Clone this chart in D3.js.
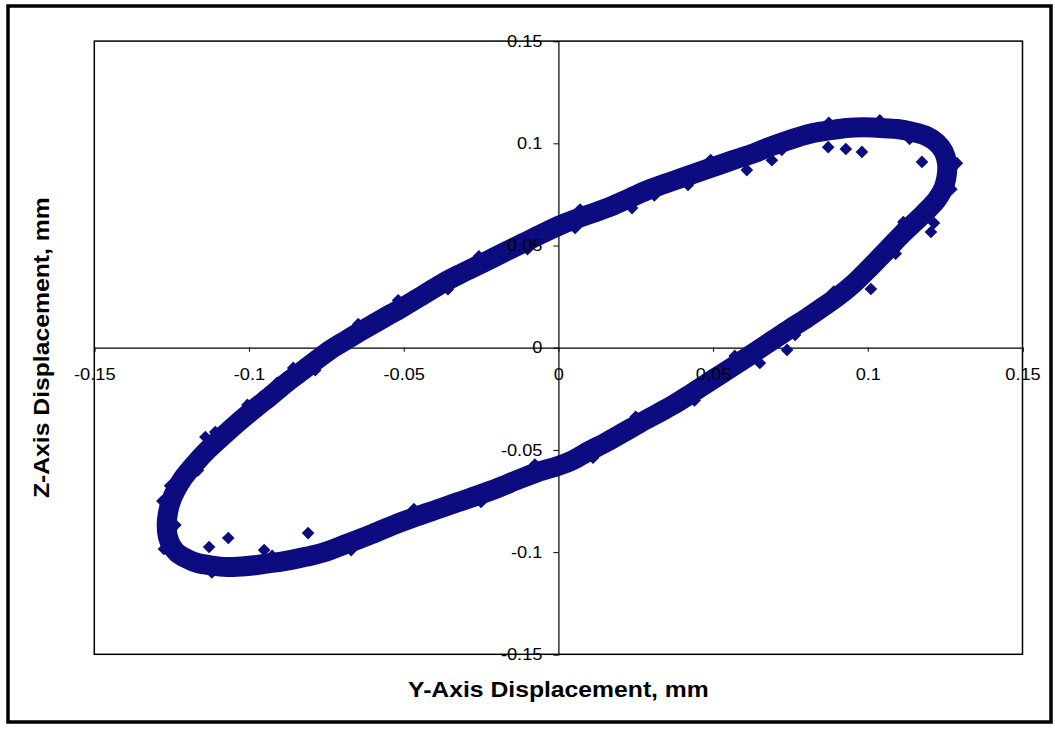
<!DOCTYPE html>
<html>
<head>
<meta charset="utf-8">
<script src="https://cdn.jsdelivr.net/npm/d3@7"></script>
<style>
  body { margin: 0; background: #fff; }
  svg text { font-family: Arial, "Liberation Sans", sans-serif; fill: #000; }
</style>
</head>
<body>
<div class="chart"></div>
<script>
// orbit of the shaft: [Y displacement, Z displacement] in mm
var orbitPoints = [
  [0.1256,0.0903],[0.1245,0.0960],[0.1224,0.1001],[0.1190,0.1035],[0.1146,0.1055],
  [0.1095,0.1070],[0.1039,0.1075],[0.0985,0.1078],[0.0932,0.1075],[0.0878,0.1064],
  [0.0823,0.1050],[0.0770,0.1028],[0.0716,0.1001],[0.0675,0.0978],[0.0633,0.0952],
  [0.0565,0.0918],[0.0500,0.0884],[0.0435,0.0850],[0.0371,0.0816],[0.0300,0.0778],
  [0.0230,0.0732],[0.0154,0.0682],[0.0080,0.0642],[0.0015,0.0605],[-0.0050,0.0560],
  [-0.0114,0.0512],[-0.0180,0.0463],[-0.0243,0.0415],[-0.0310,0.0366],[-0.0373,0.0317],
  [-0.0437,0.0258],[-0.0502,0.0199],[-0.0567,0.0143],[-0.0631,0.0087],[-0.0685,0.0038],
  [-0.0738,-0.0011],[-0.0803,-0.0085],[-0.0867,-0.0158],[-0.0927,-0.0232],[-0.0987,-0.0305],
  [-0.1040,-0.0372],[-0.1090,-0.0440],[-0.1140,-0.0510],[-0.1182,-0.0580],[-0.1214,-0.0640],
  [-0.1236,-0.0696],[-0.1252,-0.0750],[-0.1262,-0.0809],[-0.1266,-0.0868],[-0.1262,-0.0926],
  [-0.1250,-0.0970],[-0.1232,-0.1004],[-0.1200,-0.1033],[-0.1168,-0.1053],[-0.1120,-0.1066],
  [-0.1071,-0.1073],[-0.1022,-0.1070],[-0.0974,-0.1063],[-0.0920,-0.1052],[-0.0867,-0.1039],
  [-0.0813,-0.1022],[-0.0760,-0.1002],[-0.0680,-0.0957],[-0.0600,-0.0910],[-0.0530,-0.0866],
  [-0.0457,-0.0825],[-0.0390,-0.0790],[-0.0324,-0.0755],[-0.0260,-0.0722],[-0.0195,-0.0686],
  [-0.0130,-0.0645],[-0.0066,-0.0608],[0.0000,-0.0578],[0.0048,-0.0549],[0.0100,-0.0505],
  [0.0156,-0.0461],[0.0210,-0.0415],[0.0264,-0.0368],[0.0318,-0.0324],[0.0371,-0.0280],
  [0.0426,-0.0228],[0.0481,-0.0173],[0.0534,-0.0122],[0.0587,-0.0070],[0.0640,-0.0016],
  [0.0694,0.0038],[0.0748,0.0092],[0.0803,0.0145],[0.0856,0.0200],[0.0908,0.0256],
  [0.0955,0.0315],[0.0995,0.0374],[0.1030,0.0428],[0.1062,0.0478],[0.1088,0.0520],
  [0.1114,0.0561],[0.1142,0.0600],[0.1169,0.0639],[0.1198,0.0682],[0.1222,0.0722],
  [0.1240,0.0765],[0.1250,0.0805],[0.1256,0.0855]
];

// samples at the ragged edges of the band
var edgePoints = [
  [-0.0518,0.0232],[-0.0357,0.0286],[-0.0257,0.0447],[-0.0100,0.0482],[0.0070,0.0676],
  [0.0310,0.0745],[0.0492,0.0918],[0.0722,0.0968],[0.0874,0.1100],[0.1039,0.1112],
  [0.1135,0.1022],[0.1288,0.0903],[0.1270,0.0775],[0.1115,0.0615],[0.1090,0.0460],
  [0.0890,0.0275],[0.0765,0.0062],[0.0570,-0.0040],[0.0440,-0.0258],[0.0250,-0.0338],
  [0.0112,-0.0538],[-0.0076,-0.0572],[-0.0250,-0.0755],[-0.0467,-0.0790],[-0.0670,-0.0990],
  [-0.0925,-0.1018],[-0.1120,-0.1100],[-0.1275,-0.0985],[-0.1238,-0.0868],[-0.1280,-0.0750],
  [-0.1165,-0.0600],[-0.1005,-0.0280],[-0.0786,-0.0110],[-0.0647,0.0115]
];

// samples lying off the main band
var strayPoints = [
  [0.0872,0.0981],[0.0929,0.0972],[0.0981,0.0958],[0.1175,0.0909],[0.1214,0.0610],
  [0.1204,0.0566],[0.0609,0.0869],[0.1010,0.0287],[0.0651,-0.0075],[0.0739,-0.0011],
  [0.0238,0.0683],[0.0419,0.0796],[0.0690,0.0917],[0.0054,0.0586],[-0.0857,-0.0099],
  [-0.0909,-0.0172],[-0.1141,-0.0437],[-0.1109,-0.0413],[-0.1255,-0.0676],[-0.1067,-0.0931],
  [-0.1129,-0.0975],[-0.0951,-0.0990],[-0.0809,-0.0907]
];

var tickValues = [-0.15, -0.1, -0.05, 0, 0.05, 0.1, 0.15];
var tickLabels = ["-0.15", "-0.1", "-0.05", "0", "0.05", "0.1", "0.15"];
var xTitle = "Y-Axis Displacement, mm";
var yTitle = "Z-Axis Displacement, mm";

var width = 1055, height = 729;
var navy = "#0c0c80";

var svg = d3.select(".chart")
            .append("svg")
            .attr("width", width)
            .attr("height", height);

// chart frame
svg.append("rect")
   .attr("x", 8).attr("y", 6)
   .attr("width", 1043).attr("height", 716)
   .attr("fill", "#fff")
   .attr("stroke", "#000")
   .attr("stroke-width", 3.5);

var x = d3.scaleLinear().domain([-0.15, 0.15]).range([94.3, 1022.5]);
var y = d3.scaleLinear().domain([-0.15, 0.15]).range([654.3, 41.1]);

// plot area
svg.append("rect")
   .attr("x", x(-0.15)).attr("y", y(0.15))
   .attr("width", x(0.15) - x(-0.15))
   .attr("height", y(-0.15) - y(0.15))
   .attr("fill", "#fff")
   .attr("stroke", "#000")
   .attr("stroke-width", 1.5);

var xAxis = d3.axisBottom(x).tickValues(tickValues)
              .tickFormat(function(d, i) { return tickLabels[i]; })
              .tickSize(4).tickPadding(17);
var yAxis = d3.axisLeft(y).tickValues(tickValues)
              .tickFormat(function(d, i) { return tickLabels[i]; })
              .tickSize(5).tickPadding(9);

// axis lines under the data
var xLines = svg.append("g").attr("transform", "translate(0," + y(0) + ")").call(xAxis);
var yLines = svg.append("g").attr("transform", "translate(" + x(0) + ",0)").call(yAxis);
[xLines, yLines].forEach(function(g) {
    g.selectAll("text").remove();
    g.select(".domain").attr("stroke", "#000").attr("stroke-width", 1.2);
    g.selectAll(".tick line").attr("stroke", "#000");
});

// the orbit band: dense samples drawn as a thick closed trace plus diamonds
var line = d3.line()
             .x(function(d) { return x(d[0]); })
             .y(function(d) { return y(d[1]); })
             .curve(d3.curveCatmullRomClosed);

svg.append("path")
   .datum(orbitPoints)
   .attr("d", line)
   .attr("fill", "none")
   .attr("stroke", navy)
   .attr("stroke-width", 20)
   .attr("stroke-linejoin", "round");

var diamond = d3.symbol().type(d3.symbolSquare).size(80);

function addDiamonds(cls, data) {
    svg.selectAll("." + cls)
       .data(data)
       .enter().append("path")
       .attr("class", cls)
       .attr("d", diamond)
       .attr("fill", navy)
       .attr("transform", function(d) {
           return "translate(" + x(d[0]) + "," + y(d[1]) + ") rotate(45)";
       });
}
addDiamonds("orbit", orbitPoints);
addDiamonds("edge", edgePoints);
addDiamonds("stray", strayPoints);

// tick labels on top of the data
var xText = svg.append("g").attr("transform", "translate(0," + y(0) + ")").call(xAxis);
var yText = svg.append("g").attr("transform", "translate(" + x(0) + ",0)").call(yAxis);
[xText, yText].forEach(function(g) {
    g.select(".domain").remove();
    g.selectAll(".tick line").remove();
    g.selectAll("text")
     .attr("font-size", 16)
     .attr("fill", "#000")
     .attr("transform", "scale(1.14,1)");
});

// axis titles
svg.append("text")
   .attr("transform", "translate(" + x(0) + ",697) scale(1.15,1)")
   .attr("text-anchor", "middle")
   .attr("font-size", 21.5)
   .attr("font-weight", "bold")
   .text(xTitle);

svg.append("text")
   .attr("transform", "translate(49," + y(0) + ") rotate(-90) scale(1.15,1)")
   .attr("text-anchor", "middle")
   .attr("font-size", 21.5)
   .attr("font-weight", "bold")
   .text(yTitle);
</script>
</body>
</html>
